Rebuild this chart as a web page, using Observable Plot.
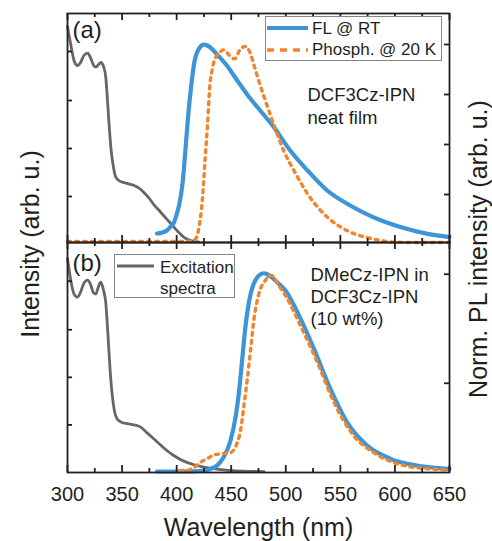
<!DOCTYPE html>
<html><head><meta charset="utf-8">
<script src="https://cdn.jsdelivr.net/npm/d3@7"></script>
<script src="https://cdn.jsdelivr.net/npm/@observablehq/plot@0.6"></script>
<style>
body{margin:0;background:#fff;}
#chart{position:relative;width:492px;height:541px;overflow:hidden;font-family:"Liberation Sans",Arial,Helvetica,sans-serif;color:#231f20;}
#chart > svg{position:absolute;left:0;}
.ylab{position:absolute;white-space:nowrap;font-size:25px;line-height:1;transform:translate(-50%,-50%) rotate(-90deg);}
</style></head><body><div id="chart"></div>
<script>
// ---- data (wavelength nm, normalized intensity) ----
const excitationA = [[300,1.09],[303,1.0],[306,0.92],[309,0.895],[312,0.91],[315,0.945],[318.5,0.957],[321,0.935],[324,0.895],[326,0.887],[328.5,0.9],[330.5,0.91],[333,0.89],[335,0.84],[337,0.69],[338.5,0.57],[340,0.47],[342,0.39],[344,0.34],[347,0.32],[351.5,0.31],[356,0.303],[361,0.295],[366,0.28],[370,0.26],[375,0.23],[379,0.2],[384,0.17],[388,0.145],[393,0.115],[397.5,0.087],[402,0.06],[406.5,0.037],[411,0.024],[416,0.016],[420,0.013]];
const flA = [[382,0.055],[386,0.058],[391,0.07],[394.5,0.09],[397.5,0.11],[400,0.15],[402,0.19],[404,0.25],[405.5,0.31],[408,0.47],[410.5,0.64],[413.5,0.8],[416.5,0.92],[420,0.975],[423,0.995],[425,1.0],[428,0.995],[431,0.985],[437,0.95],[446,0.895],[455.5,0.82],[466,0.74],[475,0.68],[489,0.587],[504,0.47],[520,0.37],[538,0.27],[559,0.195],[580,0.137],[605,0.087],[630,0.053],[650,0.037]];
const phA = [[300,0.015],[350,0.015],[400,0.015],[414,0.017],[417.5,0.028],[420.5,0.087],[423.5,0.22],[426,0.42],[428.3,0.6],[430.5,0.8],[432.5,0.87],[434,0.91],[439.5,0.96],[443,0.973],[448.5,0.945],[453,0.928],[458.5,0.978],[463,0.99],[467.5,0.956],[470.7,0.9],[474,0.84],[480,0.74],[489,0.6],[498,0.47],[507.5,0.37],[520,0.253],[538,0.137],[556,0.07],[580,0.028],[599,0.012],[620,0.01],[650,0.01]];
const excitationB = [[300,1.08],[303,0.97],[306,0.9],[309,0.885],[312,0.91],[315,0.955],[318.5,0.97],[321,0.95],[324,0.905],[326,0.9],[328.5,0.94],[330.5,0.96],[333,0.92],[335,0.86],[337,0.7],[339,0.52],[341,0.39],[343,0.31],[345.5,0.27],[350,0.252],[355,0.246],[361,0.24],[367,0.229],[373,0.2],[379,0.17],[385,0.14],[391,0.111],[397,0.087],[403.5,0.066],[410,0.05],[416,0.039],[425,0.027],[434,0.019],[443,0.013],[452,0.009],[465,0.006],[480,0.004]];
const flB = [[382,0.005],[400,0.005],[415,0.006],[425,0.01],[431,0.018],[437,0.035],[443,0.077],[449.3,0.16],[454,0.28],[457,0.4],[460,0.566],[463,0.734],[466,0.852],[470.7,0.953],[474,0.985],[477,1.0],[480,1.005],[483,1.0],[487,0.985],[492,0.96],[500,0.915],[510.5,0.81],[525.7,0.625],[541,0.42],[556,0.254],[574.5,0.136],[596,0.069],[620,0.035],[648,0.019],[650,0.018]];
const phB = [[403,0.01],[410,0.012],[416,0.025],[422,0.052],[428,0.07],[434,0.088],[440,0.094],[445,0.098],[449.3,0.1],[453,0.12],[455.5,0.15],[458.5,0.21],[461.5,0.33],[464.6,0.465],[467.7,0.616],[470.7,0.768],[475.3,0.9],[481.4,0.97],[486,0.995],[489,0.985],[493.4,0.944],[500,0.89],[513.5,0.74],[528.8,0.557],[544,0.355],[562,0.187],[580.6,0.1],[602,0.044],[630,0.019],[650,0.013]];

// ---- ticks & labels ----
const xMajor = [300,350,400,450,500,550,600,650];
const xMinor = [325,375,425,475,525,575,625];
const yLeftTicks = [0.24,0.48,0.72,0.965];
const yRightTicksA = [0.25,0.5,0.75,1.0];
const yRightTicksB = [0.45,1.0];
const xLabel = "Wavelength (nm)";
const yLabelLeft = "Intensity (arb. u.)";
const yLabelRight = "Norm. PL intensity (arb. u.)";
const annotationA = ["DCF3Cz-IPN","neat film"];
const annotationB = ["DMeCz-IPN in","DCF3Cz-IPN","(10 wt%)"];
const legendA = ["FL @ RT","Phosph. @ 20 K"];
const legendB = ["Excitation","spectra"];

const FONT = '"Liberation Sans", Arial, Helvetica, sans-serif';
const INK = "#231f20", BLUE = "#3d94d6", ORANGE = "#f0852d", GRAY = "#666666";
const W = 492, ML = 67, MR = 43, PW = W - ML - MR;

function panel(o) {
  const PH = o.height - o.marginTop - o.marginBottom;
  const xy = {x: d => d[0], y: d => d[1], curve: "monotone-x"};
  const marks = [
    Plot.line(o.exc, {...xy, stroke: GRAY, strokeWidth: 2.8}),
    Plot.line(o.fl, {...xy, stroke: BLUE, strokeWidth: 4.2}),
    Plot.line(o.ph, {...xy, stroke: ORANGE, strokeWidth: 3.4, strokeDasharray: "3,5"}),
    Plot.tickX(xMajor, {x: d => d, insetTop: PH - 7, stroke: INK, strokeWidth: 1.8}),
    Plot.tickX(xMinor, {x: d => d, insetTop: PH - 4, stroke: INK, strokeWidth: 1.8}),
    Plot.tickX(xMajor, {x: d => d, insetBottom: PH - 7, stroke: INK, strokeWidth: 1.8}),
    Plot.tickX(xMinor, {x: d => d, insetBottom: PH - 4, stroke: INK, strokeWidth: 1.8}),
    Plot.tickY(yLeftTicks, {y: d => d, insetRight: PW - 5, stroke: INK, strokeWidth: 1.8}),
    Plot.tickY(o.rightTicks, {y: d => d, insetLeft: PW - 5, stroke: INK, strokeWidth: 1.8}),
    Plot.frame({stroke: INK, strokeWidth: 1.8}),
    Plot.text([o.tag], {frameAnchor: "top-left", dx: 5, dy: o.tagDy, lineAnchor: "bottom", textAnchor: "start", fontSize: 24, fill: INK}),
    ...o.ann.map((t, i) => Plot.text([t], {frameAnchor: "top-left", dx: o.annDx, dy: o.annDy + i * o.annStep, lineAnchor: "bottom", textAnchor: "start", fontSize: 18.5, fill: INK}))
  ];
  if (o.bottomLabels) {
    marks.push(Plot.text(xMajor, {x: d => d, frameAnchor: "bottom", dy: 28, lineAnchor: "bottom", fontSize: 20, fill: INK}));
    marks.push(Plot.text([xLabel], {frameAnchor: "bottom", dy: 63, lineAnchor: "bottom", fontSize: 25, fill: INK}));
  }
  return Plot.plot({
    width: W, height: o.height, marginTop: o.marginTop, marginBottom: o.marginBottom, marginLeft: ML, marginRight: MR,
    style: {fontFamily: FONT, color: INK, background: "transparent", overflow: "visible"},
    x: {domain: [300, 650], axis: null}, y: {domain: o.yDomain, axis: null},
    marks
  });
}

const chart = document.getElementById("chart");
const panelA = panel({height: 242, marginTop: 13, marginBottom: 0, yDomain: [0.01, 1.155], exc: excitationA, fl: flA, ph: phA,
  rightTicks: yRightTicksA, tag: "(a)", tagDy: 24, ann: annotationA, annDx: 240, annDy: 87, annStep: 23});
panelA.style.top = "0px";
const panelB = panel({height: 299, marginTop: 0, marginBottom: 69, yDomain: [0, 1.16], exc: excitationB, fl: flB, ph: phB,
  rightTicks: yRightTicksB, tag: "(b)", tagDy: 28, ann: annotationB, annDx: 243, annDy: 38, annStep: 22, bottomLabels: true});
panelB.style.top = "242px";
chart.appendChild(panelA);
chart.appendChild(panelB);

// axis titles spanning both panels
function ylab(text, x, y) {
  const d = document.createElement("div");
  d.className = "ylab"; d.textContent = text;
  d.style.left = x + "px"; d.style.top = y + "px";
  chart.appendChild(d);
}
ylab(yLabelLeft, 30, 244);
ylab(yLabelRight, 478, 249);

// legends
const NS = "http://www.w3.org/2000/svg";
function el(tag, attrs, parent, text) {
  const e = document.createElementNS(NS, tag);
  for (const k in attrs) e.setAttribute(k, attrs[k]);
  if (text != null) e.textContent = text;
  parent.appendChild(e); return e;
}
function legend(left, topY, w, h, rows) {
  const s = document.createElementNS(NS, "svg");
  s.setAttribute("width", w); s.setAttribute("height", h);
  s.style.position = "absolute"; s.style.left = left + "px"; s.style.top = topY + "px";
  el("rect", {x: 0.5, y: 0.5, width: w - 1, height: h - 1, fill: "#fff", stroke: "#858585", "stroke-width": 1}, s);
  for (const r of rows) {
    if (r.line) el("line", {x1: r.line[0], x2: r.line[1], y1: r.line[2], y2: r.line[2], stroke: r.color, "stroke-width": r.width, "stroke-dasharray": r.dash || "none"}, s);
    el("text", {x: r.tx, y: r.ty, "font-size": 17, "font-family": FONT, fill: INK}, s, r.text);
  }
  chart.appendChild(s);
}
legend(265, 16, 177, 45, [
  {line: [2, 43, 12], color: BLUE, width: 4.2, text: legendA[0], tx: 47, ty: 18},
  {line: [2, 43, 34], color: ORANGE, width: 3.4, dash: "7,6", text: legendA[1], tx: 47, ty: 39}
]);
legend(114, 254, 121, 44, [
  {line: [3, 40, 12], color: GRAY, width: 3, text: legendB[0], tx: 46, ty: 19},
  {text: legendB[1], tx: 46, ty: 40}
]);
</script></body></html>
